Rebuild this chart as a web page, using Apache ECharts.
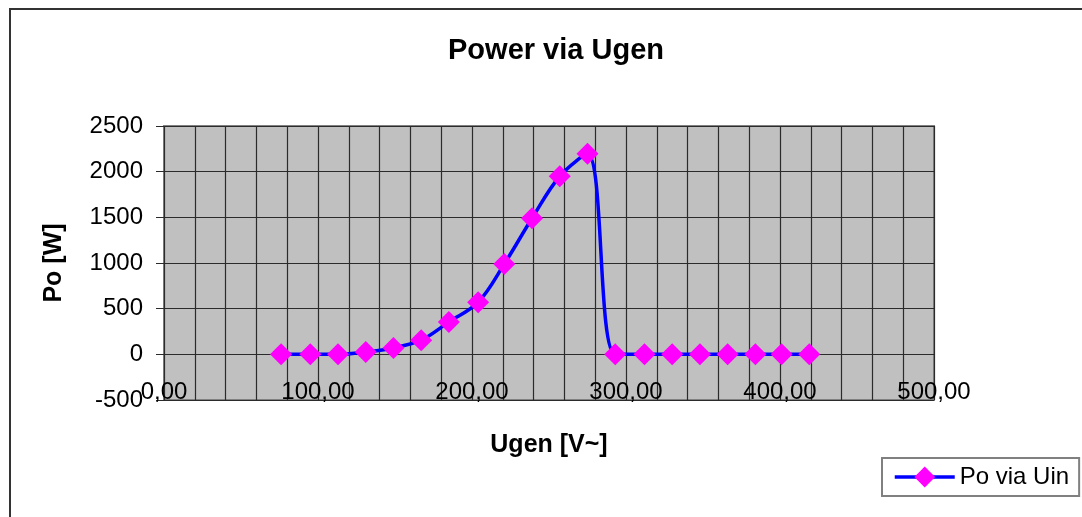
<!DOCTYPE html>
<html>
<head>
<meta charset="utf-8">
<title>Power via Ugen</title>
<script src="https://cdn.jsdelivr.net/npm/echarts@6/dist/echarts.min.js"></script>
<style>
  html, body { margin: 0; padding: 0; background: #fff; }
  #main { width: 1082px; height: 517px; }
</style>
</head>
<body>
<div id="main"></div>
<script>
// measured points, Ugen [V~] and Po [W]
var ugen  = [76, 95, 113, 131, 149, 167, 185, 204, 221, 239, 257, 275, 293, 312, 330, 348, 366, 384, 401, 419];
var power = [0, 0, 0, 25, 70, 155, 355, 570, 990, 1490, 1950, 2195, 0, 0, 0, 0, 0, 0, 0, 0];
var seriesName = 'Po via Uin';

var points = [];
for (var i = 0; i < ugen.length; i++) {
    points.push([ugen[i], power[i]]);
}

var font = 'Liberation Sans, Arial, sans-serif';
var gridColor = '#2b2b2b';
var myChart = echarts.init(document.getElementById('main'));

var option = {
    animation: false,
    backgroundColor: '#ffffff',
    title: {
        text: 'Power via Ugen',
        left: 551,
        top: 31,
        textAlign: 'center',
        textStyle: { fontFamily: font, fontSize: 29, fontWeight: 'bold', color: '#000' }
    },
    legend: {
        left: 882,
        top: 458,
        width: 193,
        padding: [7, 10, 7, 11],
        itemWidth: 60,
        itemHeight: 26,
        itemGap: 5,
        borderColor: '#808080',
        borderWidth: 2,
        borderRadius: 0,
        itemStyle: { borderWidth: 0 },
        lineStyle: { width: 3.5 },
        textStyle: { fontFamily: font, fontSize: 24, color: '#000' },
        data: [seriesName]
    },
    graphic: [{
        type: 'rect',
        silent: true,
        shape: { x: 10, y: 9, width: 1200, height: 700 },
        style: { fill: 'none', stroke: '#333', lineWidth: 2 }
    }],
    grid: {
        left: 164,
        top: 126,
        right: 148,
        bottom: 117,
        show: true,
        backgroundColor: '#c0c0c0',
        borderColor: '#808080',
        borderWidth: 2
    },
    xAxis: {
        type: 'value',
        min: 0,
        max: 500,
        interval: 100,
        name: 'Ugen [V~]',
        nameLocation: 'middle',
        nameGap: 33,
        nameTextStyle: { fontFamily: font, fontSize: 25, fontWeight: 'bold', color: '#000' },
        axisLine: { show: false, onZero: false },
        axisTick: { show: false },
        axisLabel: {
            margin: -20,
            fontFamily: font,
            fontSize: 24,
            color: '#000',
            formatter: function (v) { return v.toFixed(2).replace('.', ','); }
        },
        splitLine: { show: true, lineStyle: { color: gridColor, width: 1.2 } },
        minorTick: { show: false, splitNumber: 5 },
        minorSplitLine: { show: true, lineStyle: { color: gridColor, width: 1.2 } }
    },
    yAxis: {
        type: 'value',
        min: -500,
        max: 2500,
        interval: 500,
        name: 'Po [W]',
        nameLocation: 'middle',
        nameRotate: 90,
        nameGap: 97,
        nameTextStyle: { fontFamily: font, fontSize: 25, fontWeight: 'bold', color: '#000' },
        axisLine: { show: false },
        axisTick: { show: true, length: 8, lineStyle: { color: gridColor } },
        axisLabel: {
            margin: 21,
            fontFamily: font,
            fontSize: 24,
            color: '#000',
            formatter: function (v) { return String(v); }
        },
        splitLine: { show: true, lineStyle: { color: gridColor, width: 1.2 } }
    },
    series: [{
        name: seriesName,
        type: 'line',
        smooth: 0.35,
        data: points,
        symbol: 'diamond',
        symbolSize: 22,
        lineStyle: { color: '#0000ff', width: 3.5 },
        itemStyle: { color: '#ff00ff' },
        z: 3
    }]
};

myChart.setOption(option);
</script>
</body>
</html>
